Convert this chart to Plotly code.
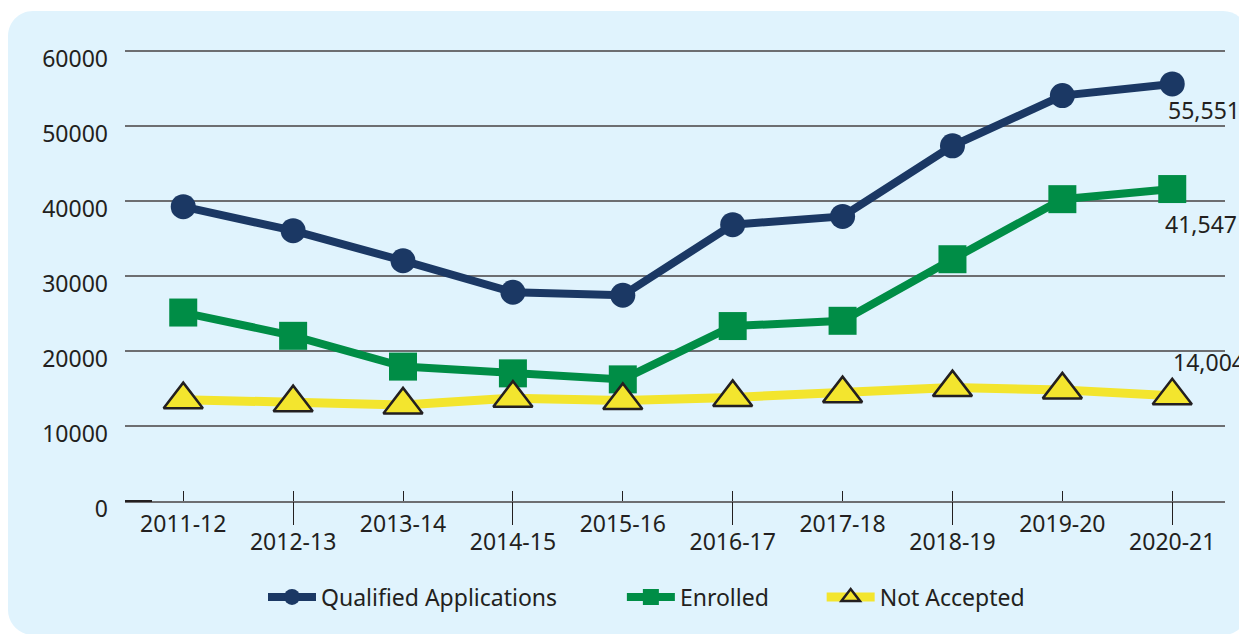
import plotly.graph_objects as go

# ---- data ----
years = ["2011-12", "2012-13", "2013-14", "2014-15", "2015-16",
         "2016-17", "2017-18", "2018-19", "2019-20", "2020-21"]
qualified = [39200, 36000, 32000, 27800, 27400, 36800, 37900, 47300, 54000, 55551]
enrolled = [25100, 22000, 17900, 17000, 16200, 23300, 24000, 32200, 40200, 41547]
not_accepted = [13500, 13100, 12800, 13700, 13400, 13800, 14300, 15100, 14800, 14004]
series_names = ["Qualified Applications", "Enrolled", "Not Accepted"]
y_ticks = [0, 10000, 20000, 30000, 40000, 50000, 60000]

# ---- style ----
FONT = "Noto Sans"
FS = 23
TXT = "#231f20"
NAVY = "#1b3864"
GREEN = "#008d46"
YELLOW = "#f3e52e"
PANEL = "#e0f3fd"
GRID = "#6d6e71"

OFF = 8  # page body margin: figure starts 8px in from the window edge
W, H = 1247 - OFF, 634 - OFF
ML, MR, MT, MB = 117, 22, 41, 133
PW, PH = W - ML - MR, H - MT - MB

def px(x):  # page pixel -> paper
    return (x - OFF - ML) / PW

def py(y):
    return (H - MB - (y - OFF)) / PH

def rounded_rect(x0, y0, x1, y1, r):
    k = 0.5523 * r
    p = []
    p.append(f"M{px(x0 + r)},{py(y0)}")
    p.append(f"L{px(x1 - r)},{py(y0)}")
    p.append(f"C{px(x1 - r + k)},{py(y0)} {px(x1)},{py(y0 + r - k)} {px(x1)},{py(y0 + r)}")
    p.append(f"L{px(x1)},{py(y1 - r)}")
    p.append(f"C{px(x1)},{py(y1 - r + k)} {px(x1 - r + k)},{py(y1)} {px(x1 - r)},{py(y1)}")
    p.append(f"L{px(x0 + r)},{py(y1)}")
    p.append(f"C{px(x0 + r - k)},{py(y1)} {px(x0)},{py(y1 - r + k)} {px(x0)},{py(y1 - r)}")
    p.append(f"L{px(x0)},{py(y0 + r)}")
    p.append(f"C{px(x0)},{py(y0 + r - k)} {px(x0 + r - k)},{py(y0)} {px(x0 + r)},{py(y0)}")
    p.append("Z")
    return " ".join(p)

xs = list(range(len(years)))
nb = "\u00a0"

fig = go.Figure()
fig.add_trace(go.Scatter(
    x=xs, y=qualified, name=series_names[0] + nb * 10, mode="lines+markers",
    line=dict(color=NAVY, width=8),
    marker=dict(symbol="circle", size=25, color=NAVY),
))
fig.add_trace(go.Scatter(
    x=xs, y=enrolled, name=series_names[1] + nb * 8, mode="lines+markers",
    line=dict(color=GREEN, width=8),
    marker=dict(symbol="square", size=28, color=GREEN),
))
fig.add_trace(go.Scatter(
    x=xs, y=not_accepted, name=series_names[2], mode="lines+markers",
    line=dict(color=YELLOW, width=9),
    marker=dict(symbol="triangle-up", size=34, color=YELLOW,
                line=dict(color=TXT, width=2.5)),
))
# invisible companion so the staggered second label row (xaxis2) is drawn
fig.add_trace(go.Scatter(
    x=xs, y=qualified, xaxis="x2", mode="lines", opacity=0,
    line=dict(width=0), showlegend=False, hoverinfo="skip",
))

# end-of-series value labels
last = len(years) - 1
for vals, xsft, ysft in [(qualified, -6, -26), (enrolled, -9, -35), (not_accepted, -1, 34)]:
    fig.add_annotation(
        x=xs[last], y=vals[last], text=f"{vals[last]:,}", showarrow=False,
        xref="x", yref="y", xanchor="left", yanchor="middle",
        xshift=xsft, yshift=ysft, font=dict(family=FONT, size=FS, color=TXT),
    )

xrange = [-0.53, 9.48]
fig.update_layout(
    width=W, height=H,
    margin=dict(l=ML, r=MR, t=MT, b=MB),
    paper_bgcolor="white",
    plot_bgcolor="rgba(0,0,0,0)",
    font=dict(family=FONT, size=FS, color=TXT),
    shapes=[
        dict(type="path", xref="paper", yref="paper", layer="below",
             path=rounded_rect(8, 11, 1248, 635, 25),
             fillcolor=PANEL, line=dict(width=0)),
        # short darker stub at the start of the category axis line
        dict(type="line", xref="paper", yref="paper", layer="above",
             x0=px(125), x1=px(152), y0=0, y1=0,
             line=dict(color=TXT, width=2)),
    ],
    xaxis=dict(
        range=xrange, tickmode="array", tickvals=xs,
        ticktext=[y if i % 2 == 0 else "" for i, y in enumerate(years)],
        ticks="inside", ticklen=10, tickwidth=1.2, tickcolor=TXT,
        showline=True, linecolor=GRID, linewidth=1.5,
        showgrid=False, zeroline=False,
        tickfont=dict(family=FONT, size=FS, color=TXT),
        ticklabelstandoff=2,
    ),
    xaxis2=dict(
        overlaying="x", anchor="y", side="bottom",
        range=xrange, tickmode="array",
        tickvals=[x for i, x in enumerate(xs) if i % 2 == 1],
        ticktext=[y for i, y in enumerate(years) if i % 2 == 1],
        ticks="outside", ticklen=23, tickwidth=1.2, tickcolor=TXT,
        showline=False, showgrid=False, zeroline=False,
        tickfont=dict(family=FONT, size=FS, color=TXT),
        ticklabelstandoff=-3,
    ),
    yaxis=dict(
        range=[0, 60200], tickmode="array", tickvals=y_ticks, tickformat="d",
        showgrid=True, gridcolor=GRID, gridwidth=1.5,
        showline=False, zeroline=False, ticks="",
        tickfont=dict(family=FONT, size=FS, color=TXT),
        ticklabelstandoff=16, ticklabelshift=8,
    ),
    legend=dict(
        orientation="h", x=px(263), xanchor="left", y=py(597), yanchor="middle",
        bgcolor="rgba(0,0,0,0)", itemwidth=48,
        font=dict(family=FONT, size=FS, color=TXT),
    ),
    showlegend=True,
)

fig.write_html("out.html")
